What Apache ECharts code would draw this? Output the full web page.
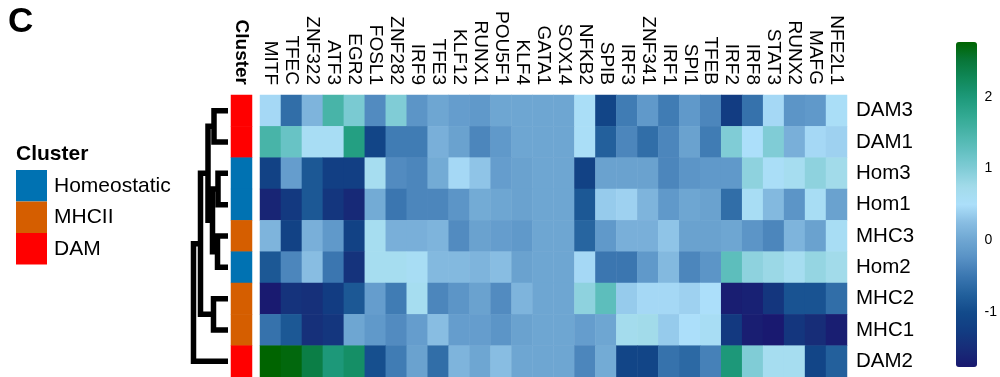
<!DOCTYPE html>
<html>
<head>
<meta charset="utf-8">
<script src="https://cdn.jsdelivr.net/npm/echarts@6/dist/echarts.min.js"></script>
<style>
  html, body { margin: 0; padding: 0; background: #fff; }
  #chart { width: 1000px; height: 377px; }
</style>
</head>
<body>
<div id="chart"></div>
<script>
// Transcription factor activity (scaled) per cluster sample
const genes = ['MITF','TFEC','ZNF322','ATF3','EGR2','FOSL1','ZNF282','IRF9','TFE3','KLF12',
  'RUNX1','POU5F1','KLF4','GATA1','SOX14','NFKB2','SPIB','IRF3','ZNF341','IRF1','SPI1','TFEB',
  'IRF2','IRF8','STAT3','RUNX2','MAFG','NFE2L1'];
const samples = ['DAM3','DAM1','Hom3','Hom1','MHC3','Hom2','MHC2','MHC1','DAM2'];
const clusterNames = ['Homeostatic','MHCII','DAM'];
const sampleCluster = ['DAM','DAM','Homeostatic','Homeostatic','MHCII','Homeostatic','MHCII','MHCII','DAM'];

const rowDAM3 = [0.45,-0.6,0.15,1.5,1.05,-0.3,1.0,-0.2,0.0,-0.1,-0.15,0.0,0.0,0.0,0.0,0.55,-1.1,-0.45,-0.15,-0.45,-0.15,-0.35,-1.25,-0.55,0.45,-0.2,-0.15,0.55];
const rowDAM1 = [1.5,1.2,0.6,0.6,1.9,-1.1,-0.45,-0.45,0.1,-0.05,-0.35,-0.15,0.0,0.0,0.0,0.55,-0.75,-0.35,-0.6,-0.35,-0.05,-0.45,1.0,0.5,1.0,0.1,0.45,0.4];
const rowHom3 = [-1.15,-0.1,-0.85,-1.2,-1.2,0.65,-0.3,-0.35,0.05,0.45,0.3,-0.1,-0.05,0.0,0.0,-1.15,-0.05,-0.05,-0.05,-0.35,-0.2,-0.15,-0.15,0.9,0.55,0.65,0.9,0.75];
const rowHom1 = [-1.6,-1.3,-0.85,-1.35,-1.55,0.05,-0.5,-0.35,-0.35,-0.2,0.05,0.0,-0.05,0.0,0.0,-0.85,0.35,0.4,0.15,-0.15,0.0,-0.05,-0.6,0.6,0.2,-0.2,0.6,-0.05];
const rowMHC3 = [0.15,-1.15,0.1,-0.15,-1.15,0.65,0.1,0.1,0.15,-0.3,-0.05,-0.1,-0.15,0.0,0.0,-0.7,-0.15,0.1,0.1,0.3,-0.05,-0.05,0.0,-0.2,-0.35,0.15,-0.05,0.6];
const rowHom2 = [-0.85,-0.35,0.25,-0.5,-1.4,0.65,0.65,0.6,0.2,0.2,0.15,0.25,-0.05,0.0,0.0,0.45,-0.5,-0.5,-0.15,0.2,-0.35,-0.2,1.3,0.9,0.8,0.65,0.85,0.75];
const rowMHC2 = [-1.75,-1.4,-1.45,-1.25,-0.85,-0.1,-0.45,0.65,-0.35,-0.2,-0.05,-0.3,0.15,0.0,0.0,0.9,1.3,0.35,0.45,0.45,0.4,0.5,-1.7,-1.65,-1.35,-0.9,-0.9,-0.6];
const rowMHC1 = [-0.55,-0.85,-1.45,-1.35,0.0,-0.15,-0.3,-0.1,0.25,-0.1,-0.1,-0.2,-0.05,0.0,0.0,-0.1,0.0,0.7,0.75,0.35,0.5,0.6,-1.3,-1.7,-1.76,-1.35,-1.5,-1.7];
const rowDAM2 = [2.76,2.7,2.4,2.0,2.15,-0.95,-0.45,-0.05,-0.6,0.15,0.0,0.25,0.0,0.0,0.0,-0.35,0.05,-1.1,-1.1,-0.55,-0.65,-0.4,2.0,1.0,0.65,0.65,-1.1,-0.75];
const rows = [rowDAM3,rowDAM1,rowHom3,rowHom1,rowMHC3,rowHom2,rowMHC2,rowMHC1,rowDAM2];

// Colour key range and tick labels
const scaleMin = -1.76;
const scaleMax = 2.76;
const scaleTicks = [-1, 0, 1, 2];

// Row dendrogram merges: negative = leaf (1-based sample), positive = earlier merge (1-based); third = height
const dendroMerges = [
  [-1, -2, 14],
  [-3, -4, 10],
  [-5, -6, 10.5],
  [-7, -8, 14.5],
  [2, 3, 15.5],
  [1, 5, 20],
  [6, 4, 27.5],
  [7, -9, 34.5]
];

const FONT = 'Liberation Sans, Arial, sans-serif';

const heatData = [];
rows.forEach((r, yi) => r.forEach((v, xi) => heatData.push([xi, yi, v])));
const clusterData = sampleCluster.map((c, yi) => [0, yi, clusterNames.indexOf(c)]);

// Build dendrogram elbows
const nodePos = []; // [height, y]
function pos(ref) {
  return ref < 0 ? [0, -ref - 1] : nodePos[ref - 1];
}
const dendroLines = [];
dendroMerges.forEach(([a, b, h]) => {
  const pa = pos(a), pb = pos(b);
  dendroLines.push({ coords: [[pa[0], pa[1]], [h, pa[1]], [h, pb[1]], [pb[0], pb[1]]] });
  nodePos.push([h, (pa[1] + pb[1]) / 2]);
});

const heatColors = ['#191970','#172c78','#123c82','#124a8a','#22609c','#3a76b0','#5790c4',
  '#6ea6d2','#88bde2','#acdffa','#a2dbea','#80ccd6','#62c0c0','#48b4a8','#30a890','#1c9878',
  '#108858','#087638','#006400'];

const TOP = 95, ROWH = 31.5, H = ROWH * samples.length;

const chart = echarts.init(document.getElementById('chart'), null, { renderer: 'canvas' });
chart.setOption({
  animation: false,
  backgroundColor: '#fff',
  textStyle: { fontFamily: FONT },
  title: [
    { text: 'C', left: 8, top: 5, padding: 0,
      textStyle: { fontSize: 35, fontWeight: 'bold', color: '#000', fontFamily: FONT } },
    { text: 'Cluster', left: 16, top: 144, padding: 0,
      textStyle: { fontSize: 21, fontWeight: 'bold', color: '#000', fontFamily: FONT } }
  ],
  grid: [
    { left: 260, top: TOP, width: 587, height: H },
    { left: 231, top: TOP, width: 21, height: H },
    { left: 185, top: TOP, width: 43, height: H },
    { left: 956, top: 42, width: 21, height: 325 }
  ],
  xAxis: [
    { gridIndex: 0, type: 'category', data: genes, position: 'top',
      axisLine: { show: false }, axisTick: { show: false }, splitLine: { show: false },
      axisLabel: { rotate: 90, fontSize: 19, color: '#000', margin: 10, interval: 0, fontFamily: FONT } },
    { gridIndex: 1, type: 'category', data: ['Cluster'], position: 'top',
      axisLine: { show: false }, axisTick: { show: false },
      axisLabel: { rotate: 90, fontSize: 19, fontWeight: 'bold', color: '#000', margin: 10, fontFamily: FONT } },
    { gridIndex: 2, type: 'value', min: 0, max: 43, inverse: true, show: false },
    { gridIndex: 3, type: 'value', show: false }
  ],
  yAxis: [
    { gridIndex: 0, type: 'category', data: samples, inverse: true, position: 'right',
      axisLine: { show: false }, axisTick: { show: false }, splitLine: { show: false },
      axisLabel: { fontSize: 20.5, color: '#000', margin: 9, fontFamily: FONT } },
    { gridIndex: 1, type: 'category', data: samples, inverse: true, show: false },
    { gridIndex: 2, type: 'value', min: -0.5, max: samples.length - 0.5, inverse: true, show: false },
    { gridIndex: 3, type: 'value', min: scaleMin, max: scaleMax, position: 'right',
      axisLine: { show: false }, splitLine: { show: false },
      axisTick: { show: false },
      axisLabel: { customValues: scaleTicks, fontSize: 14, color: '#000', margin: 8, fontFamily: FONT } }
  ],
  visualMap: [
    { type: 'continuous', seriesIndex: 0, min: scaleMin, max: scaleMax,
      left: 956, top: 42, itemWidth: 21, itemHeight: 325, padding: 0,
      calculable: false, hoverLink: false, text: null, showLabel: false,
      inRange: { color: heatColors } },
    { type: 'piecewise', seriesIndex: 1, orient: 'vertical', inverse: true,
      left: 16, top: 170, padding: 0, itemWidth: 31, itemHeight: 31.5, itemGap: 0,
      itemSymbol: 'rect', textGap: 7, selectedMode: false, hoverLink: false,
      textStyle: { fontSize: 21, color: '#000', fontFamily: FONT },
      pieces: [
        { value: 0, label: 'Homeostatic', color: '#0072B2' },
        { value: 1, label: 'MHCII', color: '#D55E00' },
        { value: 2, label: 'DAM', color: '#FF0000' }
      ] }
  ],
  series: [
    { type: 'heatmap', xAxisIndex: 0, yAxisIndex: 0, data: heatData, silent: true,
      itemStyle: { borderWidth: 0 } },
    { type: 'heatmap', xAxisIndex: 1, yAxisIndex: 1, data: clusterData, silent: true,
      itemStyle: { borderWidth: 0 } },
    { type: 'lines', coordinateSystem: 'cartesian2d', xAxisIndex: 2, yAxisIndex: 2,
      polyline: true, silent: true, data: dendroLines,
      lineStyle: { color: '#000', width: 5.5, opacity: 1, cap: 'butt', join: 'miter' } }
  ]
});
</script>
</body>
</html>
